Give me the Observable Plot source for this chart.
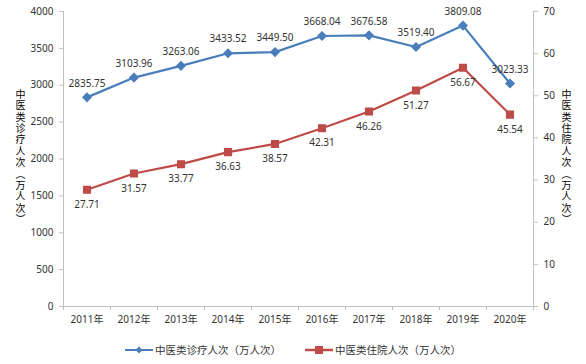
<!DOCTYPE html>
<html>
<head>
<meta charset="utf-8">
<script src="https://cdn.jsdelivr.net/npm/d3@7"></script>
<script src="https://cdn.jsdelivr.net/npm/@observablehq/plot@0.6"></script>
<style>
  body { margin: 0; background: #fff; font-family: "Noto Sans CJK SC", "Noto Sans", sans-serif; }
  #wrap { position: relative; width: 586px; height: 364px; }
  .ytitle { position: absolute; writing-mode: vertical-rl; text-orientation: mixed; font-family: "Noto Sans CJK SC", sans-serif; font-size: 10px; color: #000; line-height: 12px; letter-spacing: 1.4px; }
  #legend { position: absolute; top: 342px; left: 0; width: 586px; text-align: center; font-size: 10.5px; color: #333; font-family: "Noto Sans CJK SC", sans-serif; }
  #legend span.item { display: inline-flex; align-items: center; margin: 0 12px; }
</style>
</head>
<body>
<div id="wrap">
  <div id="chart"></div>
  <div class="ytitle" id="tl" style="left:14px; top:89px;"></div>
  <div class="ytitle" id="tr" style="left:560px; top:89px;"></div>
  <div id="legend"></div>
</div>
<script>
const years = [2011, 2012, 2013, 2014, 2015, 2016, 2017, 2018, 2019, 2020];
const outpatient = [2835.75, 3103.96, 3263.06, 3433.52, 3449.50, 3668.04, 3676.58, 3519.40, 3809.08, 3023.33];
const inpatient = [27.71, 31.57, 33.77, 36.63, 38.57, 42.31, 46.26, 51.27, 56.67, 45.54];
const leftTicks = [0, 500, 1000, 1500, 2000, 2500, 3000, 3500, 4000];
const rightTicks = [0, 10, 20, 30, 40, 50, 60, 70];
const seriesNames = ["中医类诊疗人次（万人次）", "中医类住院人次（万人次）"];
const colors = ["#4A7EBB", "#BE4B48"];

const leftMax = 4000, rightMax = 70;
const k = leftMax / rightMax;

const blue = years.map((y, i) => ({year: y, v: outpatient[i]}));
const red = years.map((y, i) => ({year: y, v: inpatient[i] * k, raw: inpatient[i]}));
const bounds = years.map(y => y - 0.5).concat([years[years.length - 1] + 0.5]);

const axisColor = "#BFBFBF";
const chart = Plot.plot({
  width: 586,
  height: 330,
  marginLeft: 63,
  marginRight: 53,
  marginTop: 11,
  marginBottom: 24,
  style: {fontFamily: "'Noto Sans', 'Noto Sans CJK SC', sans-serif", fontSize: "10px", color: "#333"},
  x: {domain: [years[0] - 0.5, years[years.length - 1] + 0.5]},
  y: {domain: [0, leftMax]},
  marks: [
    Plot.ruleY([0], {stroke: axisColor}),
    Plot.ruleX([years[0] - 0.5], {stroke: axisColor}),
    Plot.ruleX([years[years.length - 1] + 0.5], {stroke: axisColor}),
    Plot.axisY(leftTicks, {anchor: "left", tickSize: 4, tickPadding: 6, stroke: axisColor, fill: "#333", label: null, tickFormat: d => String(d)}),
    Plot.axisY(rightTicks.map(v => v * k), {anchor: "right", tickSize: 4, tickPadding: 6, stroke: axisColor, fill: "#333", label: null, tickFormat: d => String(Math.round(d / k))}),
    Plot.axisX(bounds, {anchor: "bottom", tickSize: 4, stroke: axisColor, tickFormat: () => "", label: null}),
    Plot.axisX(years, {anchor: "bottom", tickSize: 0, tickPadding: 9, fill: "#333", tickFormat: d => d + "年", label: null}),
    Plot.line(blue, {x: "year", y: "v", stroke: colors[0], strokeWidth: 2.2}),
    Plot.dot(blue, {x: "year", y: "v", symbol: "diamond2", r: 3.6, fill: colors[0], stroke: colors[0]}),
    Plot.text(blue, {x: "year", y: "v", text: d => d.v.toFixed(2), dy: -14, fill: "#333", fontSize: 10}),
    Plot.line(red, {x: "year", y: "v", stroke: colors[1], strokeWidth: 2.2}),
    Plot.dot(red, {x: "year", y: "v", symbol: "square2", r: 4.2, fill: colors[1], stroke: colors[1]}),
    Plot.text(red, {x: "year", y: "v", text: d => d.raw.toFixed(2), dy: 15, fill: "#333", fontSize: 10})
  ]
});
document.getElementById("chart").appendChild(chart);

document.getElementById("tl").textContent = seriesNames[0];
document.getElementById("tr").textContent = seriesNames[1];

const legend = document.getElementById("legend");
const markers = [
  '<svg width="28" height="10"><line x1="0" y1="5" x2="28" y2="5" stroke="' + colors[0] + '" stroke-width="2"/><path d="M14 1.5 L17.5 5 L14 8.5 L10.5 5 Z" fill="' + colors[0] + '"/></svg>',
  '<svg width="28" height="10"><line x1="0" y1="5" x2="28" y2="5" stroke="' + colors[1] + '" stroke-width="2.5"/><rect x="10" y="1" width="8" height="8" fill="' + colors[1] + '"/></svg>'
];
seriesNames.forEach((name, i) => {
  const s = document.createElement("span");
  s.className = "item";
  s.innerHTML = markers[i] + '<span style="margin-left:2px">' + name + '</span>';
  legend.appendChild(s);
});
</script>
</body>
</html>
